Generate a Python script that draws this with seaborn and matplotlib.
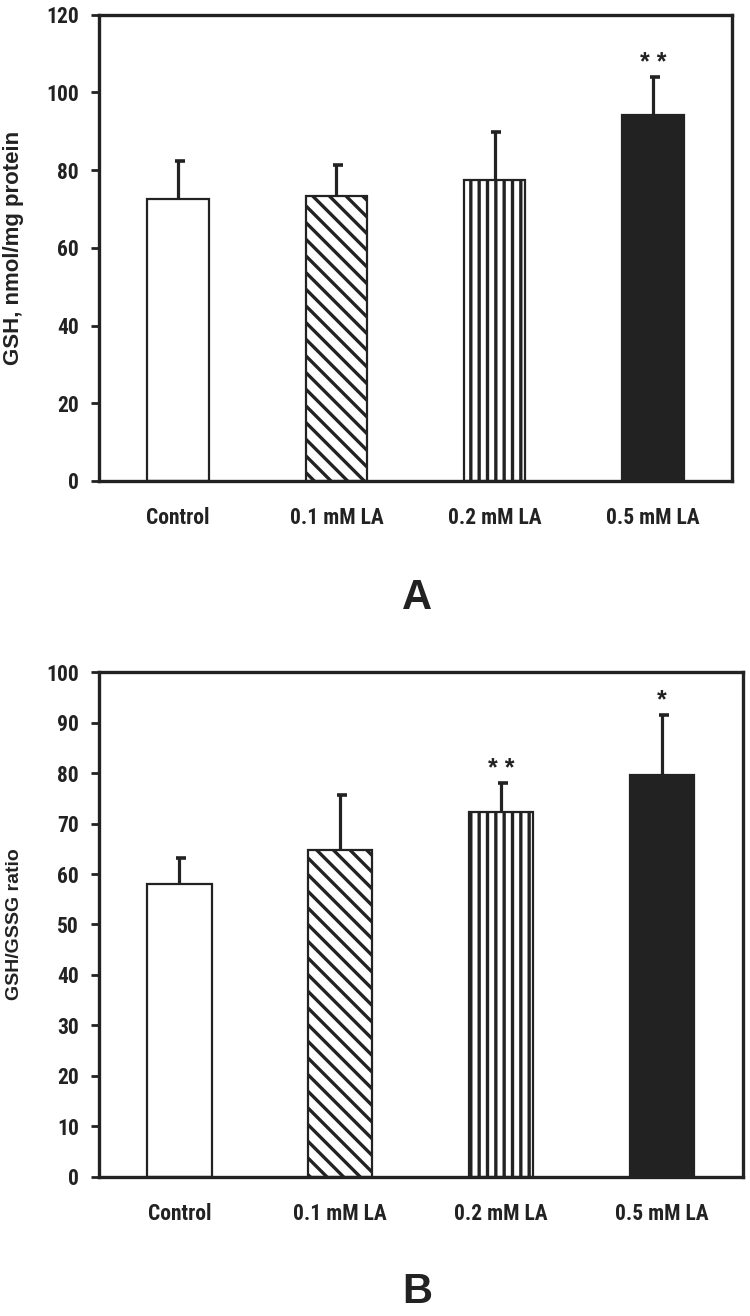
import matplotlib
matplotlib.use("Agg")
import matplotlib.pyplot as plt
import seaborn as sns
import numpy as np
from matplotlib import font_manager
from matplotlib.font_manager import FontProperties

# ---------------- data ----------------
categories = ["Control", "0.1 mM LA", "0.2 mM LA", "0.5 mM LA"]

gsh_mean = [72.5, 73.3, 77.5, 94.2]
gsh_err = [9.8, 8.0, 12.2, 9.7]
gsh_sig = ["", "", "", "* *"]

ratio_mean = [58.0, 64.8, 72.4, 79.7]
ratio_err = [5.2, 10.8, 5.6, 11.8]
ratio_sig = ["", "", "* *", "*"]

panel_labels = ["A", "B"]
ylabels = ["GSH, nmol/mg protein", "GSH/GSSG ratio"]

# ---------------- style ----------------
sns.set_style("white")
plt.rcParams["font.family"] = ["Liberation Sans", "DejaVu Sans"]
plt.rcParams["hatch.linewidth"] = 2.4
plt.rcParams["hatch.color"] = "#222222"


def find_narrow_bold():
    fl = font_manager.fontManager.ttflist
    for f in fl:
        if f.name == "Liberation Sans Narrow" and f.weight in ("bold", 700) and f.style == "normal":
            return f.fname
    for f in fl:
        if "Condensed" in f.name and "Roboto" in f.name and f.weight in ("bold", 700):
            return f.fname
    return None


nb = find_narrow_bold()
if nb:
    TICKFP = dict(fname=nb, size=15.5)
else:
    TICKFP = dict(family="Liberation Sans", weight="bold", size=15)


def tick_fp():
    return FontProperties(**TICKFP)


DARK = "#222222"
fills = ["white", "white", "white", DARK]
hatches = ["", "\\\\", "||", ""]

fig = plt.figure(figsize=(7.5, 13.16), dpi=100)
axA = fig.add_axes([0.132, 0.6345, 0.844, 0.3543])
axB = fig.add_axes([0.132, 0.1059, 0.858, 0.3832])


def draw(ax, means, errs, sigs, ylim, ystep, ylabel, ylabel_size, width):
    sns.barplot(x=categories, y=means, hue=categories, palette=fills, legend=False,
                width=width, edgecolor=DARK, linewidth=1.6, ax=ax, zorder=2)
    for p, h in zip(ax.patches, hatches):
        p.set_hatch(h)
        p.set_edgecolor(DARK)
    x = np.arange(len(categories))
    tops = np.array(means) + np.array(errs)
    ax.vlines(x, means, tops, color=DARK, lw=2.3, zorder=3)
    ax.hlines(tops, x - 0.021, x + 0.042, color=DARK, lw=2.6, zorder=3)
    for xi, t, s in zip(x, tops, sigs):
        if s:
            ax.annotate(s, (xi, t), xytext=(0, 5.5), textcoords="offset points",
                        ha="center", va="baseline", fontsize=18, fontweight="bold",
                        color=DARK)
    ax.set_xlim(-0.5, len(categories) - 0.5)
    ax.set_ylim(*ylim)
    ax.set_yticks(np.arange(ylim[0], ylim[1] + 0.1, ystep))
    ax.set_xlabel("")
    ax.set_ylabel(ylabel, fontsize=ylabel_size, fontweight="bold", color=DARK)
    ax.yaxis.set_label_coords(-0.118, 0.5)
    for sp in ax.spines.values():
        sp.set_visible(True)
        sp.set_color(DARK)
        sp.set_linewidth(2.4)
    ax.tick_params(axis="y", left=True, direction="out", length=5.5, width=2.0,
                   color=DARK, pad=9)
    ax.tick_params(axis="x", bottom=False, length=0, pad=19)
    for lab in ax.get_yticklabels() + ax.get_xticklabels():
        lab.set_fontproperties(tick_fp())
        lab.set_color(DARK)


draw(axA, gsh_mean, gsh_err, gsh_sig, (0, 120), 20, ylabels[0], 16, 0.39)
draw(axB, ratio_mean, ratio_err, ratio_sig, (0, 100), 10, ylabels[1], 14, 0.40)

fig.text(0.556, 1 - 598 / 1316, panel_labels[0], ha="center", va="center",
         fontsize=30, fontweight="bold", color=DARK)
fig.text(0.556, 1 - 1292 / 1316, panel_labels[1], ha="center", va="center",
         fontsize=30, fontweight="bold", color=DARK)

fig.savefig("out.png", dpi=100, facecolor="white")
